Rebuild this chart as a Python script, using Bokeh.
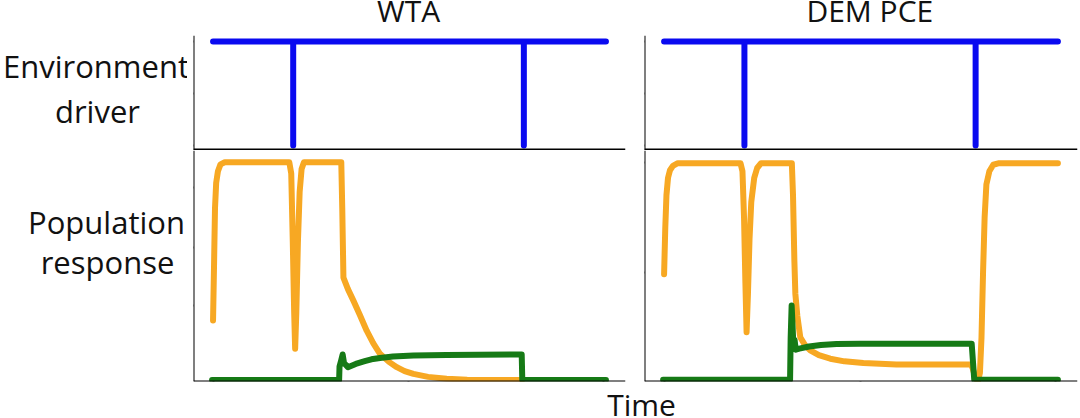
from bokeh.plotting import figure
from bokeh.layouts import row, column
from bokeh.models import Range1d, FixedTicker
from bokeh.embed import file_html
from bokeh.resources import INLINE
from bokeh.core.properties import value

FONT = "Open Sans"
BLUE = "#0A0AF0"
ORANGE = "#F7A823"
GREEN = "#167A16"

# ---------------- data ----------------
panel_titles = ["WTA", "DEM PCE"]
row_labels_top = ["Environment", "driver"]
row_labels_bottom = ["Population", "response"]
x_label = "Time"
time_ticks = [0, 100, 200]
driver_ticks = [0, 0.5, 1]
wta_pop_ticks = [0.33, 0.58, 0.84]
dem_pop_ticks = [0.5, 1.0]

# environment driver (same for both models)
driver_t = [0, 41, 41, 41, 159, 159, 159, 201]
driver_v = [1, 1, 0, 1, 1, 0, 1, 1]

# WTA population responses
wta_orange_t = [0, 0.5, 1, 1.6, 2.5, 3.8, 6,
                39, 40, 40.8, 41.5, 42, 42.6, 43.4, 44.3, 45.3, 46.5,
                65.6, 66.1, 66.7, 69, 71.8, 75, 78.6, 82, 85.4, 90, 94, 98,
                102.5, 110, 119.5, 130, 158]
wta_orange_v = [0.264, 0.5, 0.75, 0.86, 0.91, 0.94, 0.949,
                0.949, 0.9, 0.6, 0.3, 0.142, 0.3, 0.6, 0.82, 0.92, 0.949,
                0.949, 0.75, 0.45, 0.40, 0.35, 0.29, 0.22, 0.165, 0.12, 0.085,
                0.062, 0.045, 0.033, 0.02, 0.012, 0.008, 0.006]
wta_green_t = [-0.5, 64.5, 64.7, 65.5, 66.3, 67, 69, 73, 77.6, 81, 85.4, 92,
               102.5, 119.5, 157.9, 158.2, 201]
wta_green_v = [0.007, 0.007, 0.065, 0.09, 0.117, 0.08, 0.062, 0.076, 0.088,
               0.096, 0.102, 0.108, 0.113, 0.115, 0.117, 0.007, 0.007]

# DEM PCE population responses
dem_orange_t = [0, 0.6, 1.2, 2, 3, 4.5, 7,
                39, 40, 40.8, 41.5, 42.1, 42.8, 43.6, 44.5, 46, 47.5, 49.5,
                65.2, 65.8, 66.5, 67, 68, 69.5, 72, 74.6, 79, 84.8, 92, 101.7,
                118.6, 156.7, 157.5, 158.5, 159.5, 160.3, 161.2, 162, 162.8,
                163.6, 164.5, 166, 168, 171, 201]
dem_orange_v = [0.49, 0.70, 0.85, 0.93, 0.965, 0.985, 0.997,
                0.997, 0.96, 0.75, 0.45, 0.225, 0.4, 0.65, 0.82, 0.93, 0.975, 0.997,
                0.997, 0.85, 0.55, 0.40, 0.30, 0.202, 0.165, 0.142, 0.12, 0.104,
                0.092, 0.084, 0.078, 0.078, 0.06, 0.03, 0.008, 0.005, 0.04, 0.2,
                0.5, 0.75, 0.9, 0.96, 0.99, 0.997, 0.997]
dem_green_t = [-0.5, 64.3, 64.6, 65.1, 65.6, 66, 66.6, 67.2, 69, 74, 80, 88,
               100, 157, 158.3, 201]
dem_green_v = [0.008, 0.008, 0.2, 0.347, 0.25, 0.16, 0.19, 0.145, 0.15, 0.16,
               0.167, 0.171, 0.172, 0.172, 0.008, 0.008]

# ---------------- layout constants ----------------
LABEL_W = 187
L_BORDER_L, L_BORDER_R = 6, 9
R_BORDER_L, R_BORDER_R = 10, 3
FRAME_L_W, FRAME_R_W = 432, 433
TITLE_H = 35
TOP_H = 115
BOT_FRAME_H = 231
BOT_BORDER = 6
TIME_H = 31
X_START, X_END = -10, 211
AXIS_W = 2
LW = 6
TEXT_SHIFT = 11   # rendered alphabetic baseline sits lower than its y value


def style_axis(ax, ticks, tick_out=3):
    ax.ticker = FixedTicker(ticks=ticks)
    ax.axis_line_color = "black"
    ax.axis_line_width = AXIS_W
    ax.major_tick_line_color = "black"
    ax.major_tick_line_width = 2
    ax.major_tick_out = tick_out
    ax.major_tick_in = 0
    ax.minor_tick_line_color = None
    ax.major_label_text_color = None
    ax.major_label_standoff = 0


def base_fig(width, height, bl, br, bt, bb, y_start, y_end):
    p = figure(width=width, height=height, output_backend="svg", title=None,
               toolbar_location=None, x_range=Range1d(X_START, X_END),
               y_range=Range1d(y_start, y_end),
               min_border_left=bl, min_border_right=br,
               min_border_top=bt, min_border_bottom=bb)
    p.outline_line_color = None
    p.background_fill_color = "white"
    p.border_fill_color = "white"
    p.xgrid.visible = False
    p.ygrid.visible = False
    return p


def panel_top(width, bl, br):
    p = base_fig(width, TOP_H, bl, br, 0, 0, -0.048, 1.058)
    p.yaxis.fixed_location = X_START
    p.xaxis.fixed_location = -0.048
    style_axis(p.yaxis[0], driver_ticks)
    style_axis(p.xaxis[0], [], tick_out=0)
    p.xaxis[0].axis_line_width = 4
    p.line(driver_t, driver_v, line_color=BLUE, line_width=6,
           line_join="round", line_cap="round")
    return p


def panel_bottom(width, bl, br, y_end, yticks, ot, ov, gt, gv):
    p = base_fig(width, BOT_FRAME_H + BOT_BORDER, bl, br, 0, BOT_BORDER, 0, y_end)
    p.yaxis.fixed_location = X_START
    p.xaxis.fixed_location = 0
    style_axis(p.yaxis[0], yticks)
    style_axis(p.xaxis[0], time_ticks)
    p.line(ot, ov, line_color=ORANGE, line_width=LW, line_join="round",
           line_cap="round")
    p.line(gt, gv, line_color=GREEN, line_width=LW, line_join="round",
           line_cap="round")
    return p


def text_fig(width, height, bl, br, xr, yr):
    p = figure(width=width, height=height, output_backend="svg", title=None,
               toolbar_location=None, x_range=xr, y_range=yr,
               min_border_left=bl, min_border_right=br,
               min_border_top=0, min_border_bottom=0)
    p.axis.visible = False
    p.outline_line_color = None
    p.border_fill_color = "white"
    p.xgrid.visible = False
    p.ygrid.visible = False
    return p


TXT = dict(text_font=value(FONT), text_font_size="30px", text_color="#111111",
           text_align="center", text_baseline="alphabetic")
LTXT = dict(TXT, text_font_size="31px")

LEFT_FIG_W = FRAME_L_W + L_BORDER_L + L_BORDER_R
RIGHT_FIG_W = FRAME_R_W + R_BORDER_L + R_BORDER_R
TOTAL_W = LABEL_W + LEFT_FIG_W + RIGHT_FIG_W

# titles row
tLab = text_fig(LABEL_W, TITLE_H, 0, 0, Range1d(0, 1), Range1d(0, 1))
tL = text_fig(LEFT_FIG_W, TITLE_H, L_BORDER_L, L_BORDER_R,
              Range1d(X_START, X_END), Range1d(TITLE_H, 0))
tL.text(x=[100], y=[21 - TEXT_SHIFT], text=[panel_titles[0]], **TXT)
tR = text_fig(RIGHT_FIG_W, TITLE_H, R_BORDER_L, R_BORDER_R,
              Range1d(X_START, X_END), Range1d(TITLE_H, 0))
tR.text(x=[105], y=[21 - TEXT_SHIFT], text=[panel_titles[1]], **TXT)

# row labels
LAB_H = TOP_H + BOT_FRAME_H + BOT_BORDER
lab = text_fig(LABEL_W, LAB_H, 0, 0, Range1d(0, LABEL_W), Range1d(LAB_H, 0))
lab.text(x=[95.5, 97], y=[41 - TEXT_SHIFT, 86 - TEXT_SHIFT],
         text=row_labels_top, **LTXT)
lab.text(x=[106, 107], y=[197 - TEXT_SHIFT, 237 - TEXT_SHIFT],
         text=row_labels_bottom, **LTXT)

# panels
topL = panel_top(LEFT_FIG_W, L_BORDER_L, L_BORDER_R)
topR = panel_top(RIGHT_FIG_W, R_BORDER_L, R_BORDER_R)
botL = panel_bottom(LEFT_FIG_W, L_BORDER_L, L_BORDER_R,
                    1.0, wta_pop_ticks, wta_orange_t, wta_orange_v,
                    wta_green_t, wta_green_v)
botR = panel_bottom(RIGHT_FIG_W, R_BORDER_L, R_BORDER_R,
                    1.055, dem_pop_ticks, dem_orange_t, dem_orange_v,
                    dem_green_t, dem_green_v)

# x label
tfig = text_fig(TOTAL_W, TIME_H, 0, 0, Range1d(0, TOTAL_W), Range1d(TIME_H, 0))
tfig.text(x=[641], y=[28 - TEXT_SHIFT], text=[x_label], **TXT)

layout = column(
    row(tLab, tL, tR, spacing=0),
    row(lab, column(topL, botL, spacing=0), column(topR, botR, spacing=0), spacing=0),
    tfig,
    spacing=0,
)

open("out.html", "w").write(file_html(layout, INLINE))
